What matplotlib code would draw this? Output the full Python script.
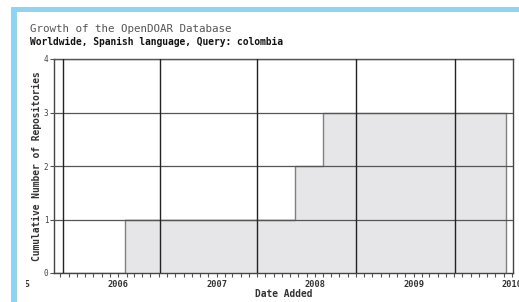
import matplotlib
matplotlib.use("Agg")
import matplotlib.pyplot as plt
import matplotlib.dates as mdates
from matplotlib.patches import Rectangle
import pandas as pd

# ---- data ----
step_dates = ["2006-01-25", "2007-10-20", "2008-01-30"]
step_counts = [1, 2, 3]
series_start = "2005-05-08"
series_end = "2009-12-10"
year_ticks = ["2005", "2006", "2007", "2008", "2009", "2010"]
y_ticks = [0, 1, 2, 3, 4]
vgrid_dates = ["2005-06-10", "2006-06-05", "2007-06-02", "2008-06-02", "2009-06-02"]

title = "Growth of the OpenDOAR Database"
subtitle = "Worldwide, Spanish language, Query: colombia"

W, H = 519, 302
fig = plt.figure(figsize=(W / 100, H / 100), dpi=100)
fig.patch.set_facecolor("white")

def fx(px):
    return px / W

def fy(py):
    return 1 - py / H

ax = fig.add_axes([fx(54), fy(273), fx(513) - fx(54), fy(59) - fy(273)])

x = pd.to_datetime([series_start] + step_dates + [series_end])
yv = [0] + step_counts + [step_counts[-1]]
ax.fill_between(x, yv, step="post", color="#e6e6e8", zorder=1, lw=0)
ax.step(x, yv, where="post", color="#808080", lw=1.0, zorder=2)
ax.vlines(x[-1], 0, yv[-1], color="#808080", lw=1.0, zorder=2)

for yy in y_ticks[1:]:
    ax.axhline(yy, color="#555555", lw=0.9, zorder=3)
for d in vgrid_dates:
    ax.axvline(pd.Timestamp(d), color="#222222", lw=1.0, zorder=3)

tick_font = dict(fontfamily="DejaVu Sans Mono", fontweight="bold", fontsize=6.2,
                 color="#333333")
ax.set_xticks(pd.to_datetime([y + "-01-01" for y in year_ticks]))
ax.set_xticklabels(year_ticks, **tick_font)
ax.xaxis.set_minor_locator(mdates.MonthLocator())
ax.tick_params(axis="x", which="both", direction="out", length=3, width=0.8,
               color="#555555", pad=2)
ax.set_yticks(y_ticks)
ax.set_yticklabels([str(v) for v in y_ticks], fontfamily="DejaVu Sans Mono",
                   fontsize=5.5, color="#444444")
ax.tick_params(axis="y", direction="out", length=3, width=0.8, color="#555555", pad=1)

ax.set_xlim(pd.Timestamp(series_start), pd.Timestamp("2010-01-05"))
ax.set_ylim(0, 4)

# first year label lies left of the axis range (partly cut off in the scan)
first = pd.Timestamp(year_ticks[0] + "-01-01")
ax.annotate(year_ticks[0], xy=(first, 0), xycoords=("data", "axes fraction"),
            xytext=(0, -5), textcoords="offset points", ha="center", va="top",
            annotation_clip=False, **tick_font)

for s in ax.spines.values():
    s.set_color("#444444")
    s.set_linewidth(1.0)

ax.set_xlabel("Date Added", fontfamily="DejaVu Sans Mono", fontweight="bold",
              fontsize=6.9, color="#333333", labelpad=0)
ax.set_ylabel("Cumulative Number of Repositories", fontfamily="DejaVu Sans Mono",
              fontweight="bold", fontsize=6.9, color="#333333", labelpad=1)

fig.text(fx(30), fy(29), title, fontfamily="DejaVu Sans Mono", fontsize=7.8,
         color="#555555", va="center", ha="left")
fig.text(fx(30), fy(42), subtitle, fontfamily="DejaVu Sans Mono", fontweight="bold",
         fontsize=6.9, color="#111111", va="center", ha="left")

# scan crop: cover part of the first year label, light blue frame
fig.patches.append(Rectangle((0, 0), fx(26), fy(250), transform=fig.transFigure,
                             facecolor="white", edgecolor="none", zorder=5))
blue = "#8fd4f2"
fig.patches.append(Rectangle((fx(11), fy(12)), 1 - fx(11), fy(7) - fy(12),
                             transform=fig.transFigure, facecolor=blue,
                             edgecolor="none", zorder=6))
fig.patches.append(Rectangle((fx(11), 0), fx(17) - fx(11), fy(7),
                             transform=fig.transFigure, facecolor=blue,
                             edgecolor="none", zorder=6))

fig.savefig("out.png", dpi=100)
